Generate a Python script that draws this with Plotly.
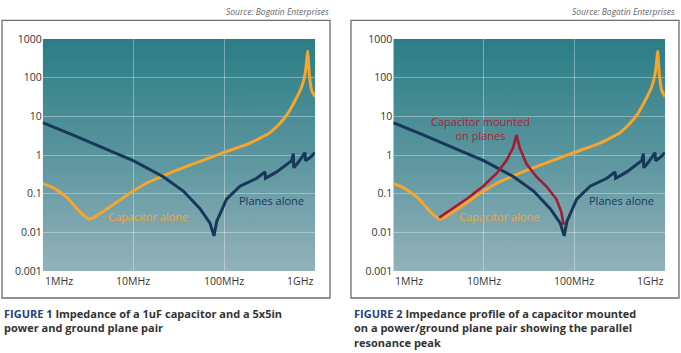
import base64
import math
import plotly.graph_objects as go

# ---------------- data ----------------
cap_freq_mhz = [1.0, 1.31, 1.84, 2.58, 3.26, 4.28, 6.53, 9.95, 15.2, 21.3, 35.4, 97.7,
                192, 260, 319, 411, 501, 577, 713, 776, 809, 830, 865, 918, 1000]
cap_z_ohm = [0.182, 0.142, 0.080, 0.034, 0.0219, 0.0308, 0.060, 0.117, 0.207, 0.29, 0.47, 1.15,
             2.04, 2.9, 3.8, 6.6, 11.8, 21.0, 57.4, 123, 262, 484, 123, 47.2, 32.4]

plane_freq_mhz = [1.0, 2.17, 5.07, 9.95, 21.3, 35.4, 54.1, 69.7, 77.1, 82.6, 106, 149,
                  228, 281, 285, 378, 553, 577, 583, 655, 776, 785, 881, 1000]
plane_z_ohm = [6.84, 3.29, 1.40, 0.714, 0.275, 0.117, 0.041, 0.0174, 0.00815, 0.0192, 0.0728, 0.156,
               0.251, 0.366, 0.251, 0.366, 0.714, 1.09, 0.471, 0.649, 1.15, 0.714, 0.863, 1.15]

mounted_freq_mhz = [3.21, 4.21, 6.44, 9.82, 13.8, 17.7, 21.0, 22.9, 24.9, 29.5, 38.0, 49.0,
                    63.1, 71.6, 76.0]
mounted_z_ohm = [0.0241, 0.0372, 0.0728, 0.156, 0.334, 0.714, 1.53, 3.29, 1.53, 0.593, 0.275, 0.156,
                 0.0728, 0.034, 0.0158]

y_tick_vals = [0.001, 0.01, 0.1, 1, 10, 100, 1000]
y_tick_text = ["0.001", "0.01", "0.1", "1", "10", "100", "1000"]
x_tick_vals_mhz = [1, 10, 100, 1000]
x_tick_text = ["1MHz", "10MHz", "100MHz", "1GHz"]

captions = [
    ("FIGURE 1", "Impedance of a 1uF capacitor and a 5x5in<br>power and ground plane pair"),
    ("FIGURE 2", "Impedance profile of a capacitor mounted<br>on a power/ground plane pair showing the parallel<br>resonance peak"),
]
source_text = "Source: Bogatin Enterprises"

# ---------------- styling ----------------
W, H = 681, 353
ORANGE = "#F7A52B"
NAVY = "#18385A"
RED = "#A8192E"
FONT = "Open Sans"

def px(v):
    return v / W

def py(v):
    return 1 - v / H

def hz(lst):
    return [v * 1e6 for v in lst]

fig = go.Figure()

panels = [
    dict(xa="x", ya="y", xdom=[px(42.7), px(315)]),
    dict(xa="x2", ya="y2", xdom=[px(393.3), px(665)]),
]
ydom = [py(275), py(33.3)]

grad_svg = (
    '<svg xmlns="http://www.w3.org/2000/svg" width="100" height="100" preserveAspectRatio="none">'
    '<defs><linearGradient id="g" x1="0" y1="0" x2="0" y2="1">'
    '<stop offset="0" stop-color="#2A7D86"/><stop offset="0.5" stop-color="#5A959E"/>'
    '<stop offset="1" stop-color="#93B2BA"/></linearGradient></defs>'
    '<rect width="100" height="100" fill="url(#g)"/></svg>'
)
grad_src = "data:image/svg+xml;base64," + base64.b64encode(grad_svg.encode()).decode()

images = []
annotations = []
shapes = []

for i, p in enumerate(panels):
    xa, ya = p["xa"], p["ya"]
    # curves
    fig.add_trace(go.Scatter(x=hz(cap_freq_mhz), y=cap_z_ohm, mode="lines",
                             line=dict(color=ORANGE, width=3, shape="spline", smoothing=0.7),
                             xaxis=xa, yaxis=ya, hoverinfo="skip", showlegend=False))
    fig.add_trace(go.Scatter(x=hz(plane_freq_mhz), y=plane_z_ohm, mode="lines",
                             line=dict(color=NAVY, width=3), xaxis=xa, yaxis=ya,
                             hoverinfo="skip", showlegend=False))
    if i == 1:
        fig.add_trace(go.Scatter(x=hz(mounted_freq_mhz), y=mounted_z_ohm, mode="lines",
                                 line=dict(color=RED, width=2.6), xaxis=xa, yaxis=ya,
                                 hoverinfo="skip", showlegend=False))
    # gradient background
    images.append(dict(source=grad_src, xref="paper", yref="paper",
                       x=p["xdom"][0], y=ydom[1], sizex=p["xdom"][1] - p["xdom"][0],
                       sizey=ydom[1] - ydom[0], xanchor="left", yanchor="top",
                       sizing="stretch", layer="below"))
    # x tick labels (first left-aligned, last right-aligned)
    for j, (v, t) in enumerate(zip(x_tick_vals_mhz, x_tick_text)):
        anchor = "left" if j == 0 else ("right" if j == len(x_tick_vals_mhz) - 1 else "center")
        annotations.append(dict(x=math.log10(v * 1e6), y=py(285), xref=xa, yref="paper",
                                text=t, showarrow=False, xanchor=anchor, yanchor="middle",
                                font=dict(family=FONT, size=10.5, color="#333333")))
    # curve labels
    off = 0 if i == 0 else 350.6
    annotations.append(dict(x=px(106 + off), y=py(217.7), xref="paper", yref="paper",
                            text="Capacitor alone", showarrow=False, xanchor="left",
                            yanchor="middle", font=dict(family=FONT, size=11, color=ORANGE)))
    annotations.append(dict(x=px(236.7 + off), y=py(201), xref="paper", yref="paper",
                            text="Planes alone", showarrow=False, xanchor="left",
                            yanchor="middle", font=dict(family=FONT, size=11, color=NAVY)))
    # caption
    fig_lbl, cap = captions[i]
    cx = 2 if i == 0 else 352
    annotations.append(dict(x=px(cx), y=py(309.5), xref="paper", yref="paper",
                            text="<b><span style='color:#24407A'>" + fig_lbl + "</span> " + cap + "</b>",
                            showarrow=False, xanchor="left", yanchor="top", align="left",
                            font=dict(family=FONT, size=11, color="#333333")))
    # source
    sx = 331 if i == 0 else 677
    annotations.append(dict(x=px(sx), y=py(5), xref="paper", yref="paper",
                            text="<i>" + source_text + "</i>", showarrow=False,
                            xanchor="right", yanchor="middle",
                            font=dict(family=FONT, size=8.5, color="#666666")))
    # outer frame
    bx0, bx1 = (2, 330) if i == 0 else (351, 679)
    shapes.append(dict(type="rect", xref="paper", yref="paper", x0=px(bx0), x1=px(bx1),
                       y0=py(303), y1=py(14), line=dict(color="#6E6E6E", width=1.3),
                       fillcolor="rgba(0,0,0,0)", layer="above"))

annotations.append(dict(x=px(480), y=py(126), xref="paper", yref="paper",
                        text="Capacitor mounted<br>on planes", showarrow=False,
                        xanchor="center", yanchor="middle", align="center",
                        font=dict(family=FONT, size=11, color="#B3202F")))

axis_x = dict(type="log", range=[6, 9], tickvals=[v * 1e6 for v in x_tick_vals_mhz],
              showticklabels=False, showgrid=True, gridcolor="rgba(255,255,255,0.35)",
              gridwidth=1, zeroline=False, showline=False, ticks="")
axis_y = dict(type="log", range=[-3, 3], tickvals=y_tick_vals, ticktext=y_tick_text,
              showgrid=True, gridcolor="rgba(255,255,255,0.35)", gridwidth=1,
              zeroline=False, showline=False, ticks="", domain=ydom,
              tickfont=dict(family=FONT, size=10.5, color="#333333"))

fig.update_layout(
    width=W, height=H, margin=dict(l=0, r=0, t=0, b=0),
    paper_bgcolor="white", plot_bgcolor="rgba(0,0,0,0)",
    xaxis=dict(axis_x, domain=panels[0]["xdom"], anchor="y"),
    yaxis=dict(axis_y, anchor="x"),
    xaxis2=dict(axis_x, domain=panels[1]["xdom"], anchor="y2"),
    yaxis2=dict(axis_y, anchor="x2"),
    images=images, annotations=annotations, shapes=shapes,
    showlegend=False, hovermode=False,
)

fig.write_html("out.html", config={"displayModeBar": False})
